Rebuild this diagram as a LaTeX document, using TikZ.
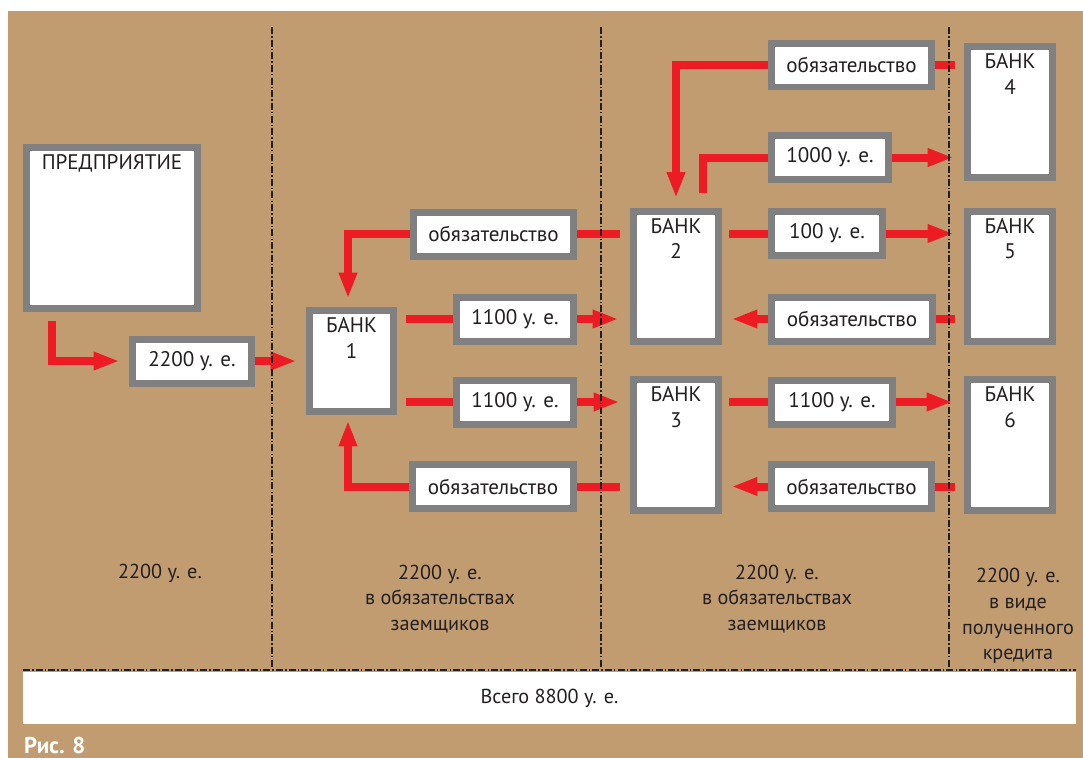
\documentclass[tikz,border=0pt]{standalone}
\usepackage{fontspec}
\setmainfont{PT Sans}
\usetikzlibrary{arrows.meta, positioning, calc}

\definecolor{paper}{RGB}{194,156,113}
\definecolor{boxgray}{RGB}{128,128,128}
\definecolor{flowred}{RGB}{237,28,36}
\definecolor{ink}{RGB}{35,31,32}

\pgfdeclarelayer{back}
\pgfdeclarelayer{lines}
\pgfsetlayers{back,lines,main}

% text at the top of a tall box
\newcommand{\topbox}[3]{\begin{minipage}[c][#2][t]{#1}\centering\vspace*{0.14cm}#3\end{minipage}}

\tikzset{
  box/.style={draw=boxgray, line width=0.14cm, fill=white, inner sep=0pt,
    minimum height=0.88cm, text=ink, font=\fontsize{12}{14.7}\selectfont},
  flow/.style={draw=flowred, line width=0.16cm},
  flowarr/.style={flow, -{Triangle[length=0.52cm, width=0.34cm]}},
  divider/.style={ink, line width=0.8pt, dash pattern=on 4pt off 1.2pt on 0.8pt off 1.2pt},
  caption/.style={align=center, text=ink, font=\fontsize{11.5}{14.7}\selectfont}
}

\begin{document}
\begin{tikzpicture}[x=0.02cm, y=-0.02cm]
  \useasboundingbox (0,0) rectangle (1083,758);
  \begin{pgfonlayer}{back}
    \fill[white] (0,0) rectangle (1083,758);
    \fill[paper] (8,11) rectangle (1083,758);
  \end{pgfonlayer}

  % firm and first payment
  \node[box] (firm) at (112,228) {\topbox{3.42cm}{3.22cm}{ПРЕДПРИЯТИЕ}};
  \node[box, minimum width=2.38cm] (pay) at (192,361) {2200 у. е.};

  % banks
  \node[box] (bank1) at (351.5,361) {\topbox{1.68cm}{2.02cm}{БАНК\\1}};
  \node[box] (bank2) at (676,276.5) {\topbox{1.7cm}{2.62cm}{БАНК\\2}};
  \node[box] (bank3) at (676,445) {\topbox{1.7cm}{2.62cm}{БАНК\\3}};
  \node[box] (bank4) at (1010,112) {\topbox{1.7cm}{2.62cm}{БАНК\\4}};
  \node[box] (bank5) at (1010,276.5) {\topbox{1.7cm}{2.62cm}{БАНК\\5}};
  \node[box] (bank6) at (1010,445) {\topbox{1.7cm}{2.62cm}{БАНК\\6}};

  % sums and obligations
  \node[box, minimum width=3.22cm] (debt1) at (493.5,234) {обязательство};
  \node[box, minimum width=2.34cm] (sum1) at (515,319) {1100 у. е.};
  \node[box, minimum width=2.34cm] (sum2) at (515,402) {1100 у. е.};
  \node[box, minimum width=3.22cm] (debt2) at (493,486.5) {обязательство};
  \node[box, minimum width=3.22cm] (debt3) at (851.5,65) {обязательство};
  \node[box, minimum width=2.34cm] (sum3) at (830,157.5) {1000 у. е.};
  \node[box, minimum width=2.22cm] (sum4) at (827,233.5) {100 у. е.};
  \node[box, minimum width=3.22cm] (debt4) at (852,319) {обязательство};
  \node[box, minimum width=2.42cm] (sum5) at (832,402) {1100 у. е.};
  \node[box, minimum width=3.22cm] (debt5) at (851.5,486.5) {обязательство};

  % money and obligation flows
  \begin{pgfonlayer}{lines}
    \draw[flowarr, shorten >=0.19cm] ([xshift=0.57cm, yshift=-0.19cm]firm.south west) |- (pay.west);
    \draw[flowarr, shorten >=0.19cm] (pay) -- (bank1);
    \draw[flow, shorten <=0.19cm] (bank1.east |- sum1) -- (sum1);
    \draw[flowarr, shorten >=0.23cm] (sum1) -- (bank2.west |- sum1);
    \draw[flow, shorten <=0.19cm] (bank1.east |- sum2) -- (sum2);
    \draw[flowarr, shorten >=0.21cm] (sum2) -- (bank3.west |- sum2);
    \draw[flow, shorten <=0.21cm] (bank2.west |- debt1) -- (debt1);
    \draw[flowarr, shorten >=0.17cm] (debt1) -| ([xshift=-0.07cm]bank1.north);
    \draw[flow, shorten <=0.21cm] (bank3.west |- debt2) -- (debt2);
    \draw[flowarr, shorten >=0.11cm] (debt2) -| ([xshift=-0.07cm]bank1.south);
    \draw[flow, shorten <=0.19cm] (bank4.west |- debt3) -- (debt3);
    \draw[flowarr, shorten >=0.19cm] (debt3) -| (bank2.north);
    \draw[flow, shorten <=0.29cm] ([xshift=0.54cm]bank2.north) |- (sum3);
    \draw[flowarr, shorten >=0.21cm] (sum3) -- (bank4.west |- sum3);
    \draw[flow, shorten <=0.15cm] (bank2.east |- sum4) -- (sum4);
    \draw[flowarr, shorten >=0.21cm] (sum4) -- (bank5.west |- sum4);
    \draw[flow, shorten <=0.19cm] (bank5.west |- debt4) -- (debt4);
    \draw[flowarr, shorten >=0.19cm] (debt4) -- (bank2.east |- debt4);
    \draw[flow, shorten <=0.15cm] (bank3.east |- sum5) -- (sum5);
    \draw[flowarr, shorten >=0.23cm] (sum5) -- (bank6.west |- sum5);
    \draw[flow, shorten <=0.19cm] (bank6.west |- debt5) -- (debt5);
    \draw[flowarr, shorten >=0.19cm] (debt5) -- (bank3.east |- debt5);
  \end{pgfonlayer}

  % column dividers
  \foreach \x in {272,601,949}
    \draw[divider] (\x,27) -- (\x,668);
  \draw[divider] (23,670) -- (1076,670);

  % column totals
  \node[caption] (col1) at (160,573) {2200 у. е.};
  \node[caption] (col2) at (440,599) {2200 у. е.\\в обязательствах\\заемщиков};
  \node[caption] (col3) at (777,599) {2200 у. е.\\в обязательствах\\заемщиков};
  \node[caption] (col4) at (1018,616) {2200 у. е.\\в виде\\полученного\\кредита};

  \node[fill=white, minimum width=21.06cm, minimum height=1.04cm, inner sep=0pt,
    text=ink, font=\fontsize{11.5}{14}\selectfont] (total) at (549.5,698) {Всего 8800 у. е.};
  \node[anchor=west, text=white, font=\bfseries\fontsize{13}{13}\selectfont] (fig) at (18,745) {Рис. 8};
\end{tikzpicture}
\end{document}
